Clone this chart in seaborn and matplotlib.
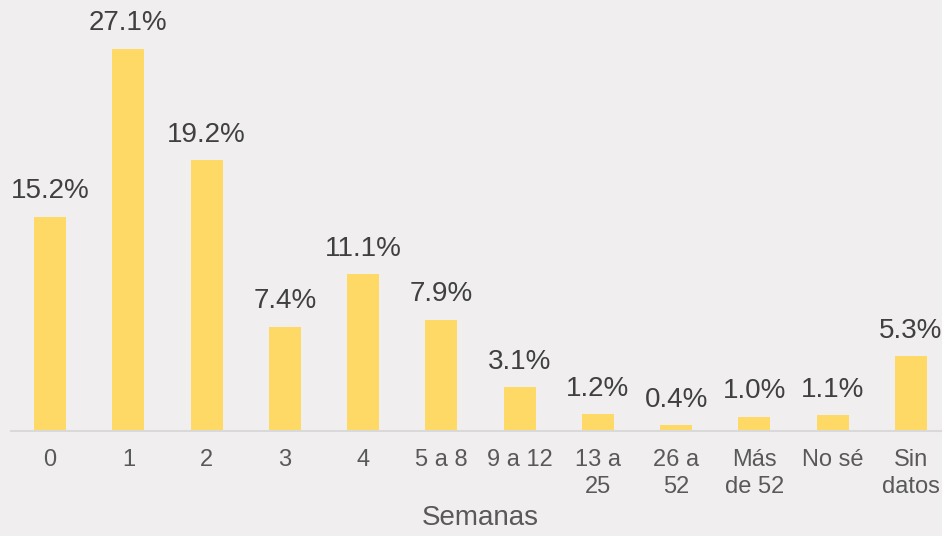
import pandas as pd
import matplotlib
matplotlib.use("Agg")
import matplotlib.pyplot as plt
import seaborn as sns

semanas = ["0", "1", "2", "3", "4", "5 a 8", "9 a 12", "13 a\n25", "26 a\n52",
           "Más\nde 52", "No sé", "Sin\ndatos"]
porcentaje = [15.2, 27.1, 19.2, 7.4, 11.1, 7.9, 3.1, 1.2, 0.4, 1.0, 1.1, 5.3]

df = pd.DataFrame({"semana": semanas, "pct": porcentaje})

sns.set_style("white")
plt.rcParams["font.family"] = ["Liberation Sans", "DejaVu Sans"]

bg = "#F0EEEF"
fig = plt.figure(figsize=(9.42, 5.36), dpi=100, facecolor=bg)
# the plotting band runs a bit past the right edge, like the original
ax = fig.add_axes([11 / 942, 105 / 536, 939 / 942, 423 / 536])
ax.set_facecolor(bg)

sns.barplot(data=df, x="semana", y="pct", color="#FFD966", width=0.41,
            saturation=1, linewidth=0, edgecolor="none", ax=ax)

ax.bar_label(ax.containers[0], labels=[f"{v:.1f}%" for v in porcentaje],
             padding=9, fontsize=20, color="#404040")

ax.set_ylim(0, 30)
ax.set_xlim(-0.5, 11.5)
ax.set_yticks([])
ax.set_ylabel("")
ax.set_xlabel("Semanas", fontsize=20, color="#595959", labelpad=5)
ax.tick_params(axis="x", length=0, pad=13, labelsize=17, labelcolor="#595959")
for lbl in ax.get_xticklabels():
    lbl.set_linespacing(1.3)
for s in ["top", "right", "left"]:
    ax.spines[s].set_visible(False)
ax.spines["bottom"].set_color("#D9D9D9")
ax.spines["bottom"].set_linewidth(1.5)

fig.savefig("out.png", dpi=100, facecolor=bg)
